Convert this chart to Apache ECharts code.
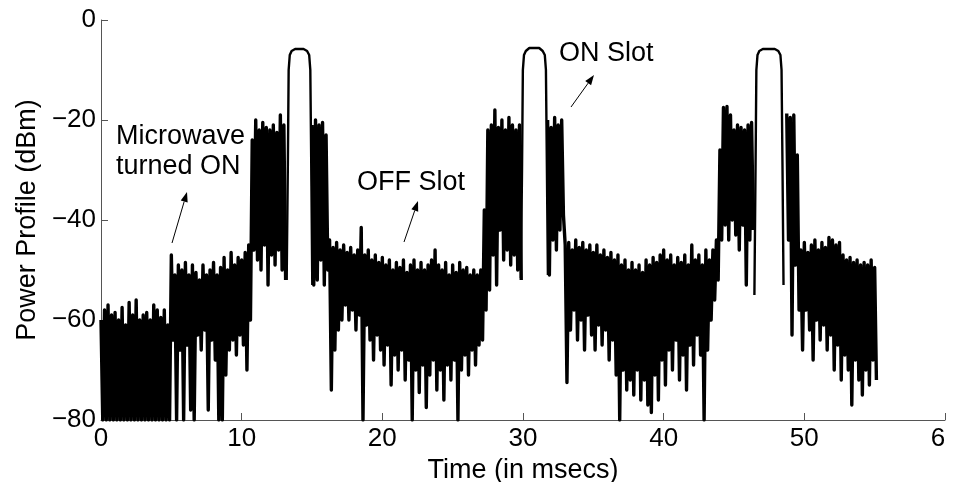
<!DOCTYPE html>
<html>
<head>
<meta charset="utf-8">
<script src="https://cdn.jsdelivr.net/npm/echarts@6/dist/echarts.min.js"></script>
<style>
html,body{margin:0;padding:0;background:#fff;}
#chart{width:959px;height:482px;}
</style>
</head>
<body>
<div id="chart"></div>
<script>
// ---- Data ----
const xTicks = [0, 10, 20, 30, 40, 50, 60];
const yTicks = [-80, -60, -40, -20, 0];
const noiseStart = 0;      // ms
const noiseStep = 0.25;    // ms between samples
// upper excursions of the noisy power trace (dBm), one row per ms, null = inside ON pulse
const noiseHigh = [
  -60, -58, -57, -59,
  -58.5, -60, -57.5, -61,
  -56.5, -59, -56, -60,
  -59, -58.5, -60, -57,
  -58, -59.5, -58, -61,
  -47, -51, -49, -50,
  -48.5, -51, -49, -50.5,
  -52, -49, -51, -50,
  -48.5, -51, -49.5, -47.5,
  -50, -46.5, -49, -47.5,
  -48, -46.5, -45, -24,
  -20, -22, -20.5, -21.5,
  -22, -21, -22.5, -19,
  -21, null, null, null,
  null, null, null, null,
  -21, -20, -21, -20.5,
  -23, -44, -45.5, -44.5,
  -46, -45, -46.5, -45.5,
  -47, -46, -41.5, -47,
  -46, -48, -47, -48.5,
  -47.5, -49, -48, -50,
  -48.5, -49.5, -48, -50.5,
  -49, -48, -50, -48.5,
  -50, -49, -48, -46,
  -49, -50, -48.5, -51,
  -49, -50.5, -48.5, -50,
  -49.5, -51, -50, -51,
  -50, -38, -22, -21,
  -18, -21.5, -20, -22,
  -19.5, -21, -22, -21,
  null, null, null, null,
  null, null, null, -20,
  -21.5, -19.5, -21, -20,
  -45, -44.5, -46, -44,
  -45.5, -44.5, -46, -45,
  -46.5, -45, -47, -46,
  -47.5, -46.5, -48, -47,
  -49, -48, -50, -48.5,
  -50, -49, -50.5, -48,
  -49, -47.5, -48.5, -47,
  -46, -48, -47, -49,
  -47.5, -48.5, -47, -49,
  -45, -48, -47, -49,
  -46, -48, -46, -44,
  -26, -17.5, -17.3, -19,
  -22, -21, -21.5, -22,
  -21, -20.5, null, null,
  null, null, null, null,
  null, null, null, -18.7,
  -19.5, -19, -27, -46,
  -44.5, -46.5, -45, -44,
  -46, -44.5, -45.5, -43.5,
  -44, -45, -44.5, -47,
  -48, -47.5, -48.5, -48,
  -49, -48.5, -49, -48,
  -49.5
];
// lower excursions, taken half a step later than each upper value
const noiseLow = [
  -80, -80, -80, -80,
  -80, -80, -80, -80,
  -80, -80, -80, -80,
  -80, -80, -80, -80,
  -80, -80, -80, -80,
  -64, -80, -66, -80,
  -65, -78, -80, -63,
  -66, -62, -78, -64,
  -68, -80, -80, -71,
  -66, -64, -67, -63,
  -65, -70, -60, -46,
  -48, -50, -45, -53,
  -47, -49, -46, -50,
  -52, null, null, null,
  null, null, null, null,
  -53, -52, -48, -53,
  -50, -74, -66, -62,
  -60, -57, -60, -58,
  -62, -59, -80, -61,
  -64, -68, -63, -66,
  -69, -65, -73, -67,
  -70, -66, -72, -68,
  -80, -70, -74.5, -69,
  -77.5, -71, -68, -74,
  -70, -76, -69, -72,
  -68, -80, -70, -67,
  -71, -66, -69, -65,
  -64, -58, -54, -47,
  -53, -42, -48, -46,
  -49, -47, -50, -52,
  null, null, null, null,
  null, null, null, -51,
  -44, -46, -42, -39,
  -72.5, -62, -58, -64,
  -60, -66, -59, -63,
  -66, -61, -65, -62,
  -68, -64, -71, -80,
  -70, -74, -72, -75,
  -70, -76, -72, -77,
  -78.5, -71, -76, -68,
  -73, -66, -70, -64,
  -72, -67, -74, -65,
  -69, -63, -67, -80,
  -66, -60, -56, -52,
  -44, -41, -44, -40,
  -43, -46, -41, -53,
  -44, -42, null, null,
  null, null, null, null,
  null, null, null, -44,
  -63, -49, -58, -66,
  -58, -62, -68, -60,
  -64, -61, -66, -63,
  -70, -65, -72, -67,
  -70, -77, -68, -72,
  -75, -70, -73, -68,
  -72
];
// ON-slot pulses (time in ms, power in dBm)
const pulse1T = [13.2, 13.28, 13.34, 13.42, 13.55, 13.8, 14.4, 14.65, 14.8, 14.88, 14.95, 15.02];
const pulse1P = [-52, -30, -10, -7, -6.2, -5.8, -5.8, -6.2, -7, -10, -30, -53];
const pulse2T = [29.85, 29.93, 29.99, 30.07, 30.2, 30.45, 31.15, 31.4, 31.55, 31.63, 31.7, 31.77];
const pulse2P = [-51.6, -30, -10, -7, -6.2, -5.6, -5.6, -6.2, -7, -10, -30, -51];
const pulse3T = [46.45, 46.53, 46.59, 46.67, 46.8, 47.05, 47.9, 48.15, 48.3, 48.38, 48.45, 48.52];
const pulse3P = [-55, -30, -10, -7, -6.2, -5.8, -5.8, -6.2, -7, -10, -30, -53];

// ---- Build series data ----
const noiseData = [];
for (let i = 0; i < noiseHigh.length; i++) {
  const t = noiseStart + i * noiseStep;
  if (noiseHigh[i] === null) { noiseData.push([t, '-']); continue; }
  noiseData.push([t, noiseHigh[i]]);
  if (noiseLow[i] !== null && noiseLow[i] !== undefined) noiseData.push([t + noiseStep / 2, noiseLow[i]]);
}
const pulseData = [];
[[pulse1T, pulse1P], [pulse2T, pulse2P], [pulse3T, pulse3P]].forEach(([ts, ps], k) => {
  if (k > 0) pulseData.push([ts[0] - 0.01, '-']);
  ts.forEach((t, j) => pulseData.push([t, ps[j]]));
});

const FONT = '"Liberation Sans", Arial, Helvetica, sans-serif';
const chart = echarts.init(document.getElementById('chart'), null, {renderer: 'canvas'});

function arrow(x1, y1, x2, y2) {
  const dx = x2 - x1, dy = y2 - y1, L = Math.hypot(dx, dy);
  const ux = dx / L, uy = dy / L, hl = 10, hw = 3.6;
  const bx = x2 - ux * hl, by = y2 - uy * hl;
  return [
    {type: 'line', shape: {x1: x1, y1: y1, x2: bx, y2: by}, style: {stroke: '#000', lineWidth: 1}, silent: true},
    {type: 'polygon', shape: {points: [[x2, y2], [bx - uy * hw, by + ux * hw], [bx + uy * hw, by - ux * hw]]}, style: {fill: '#000'}, silent: true}
  ];
}
function label(text, x, y) {
  return {type: 'text', x: x, y: y, style: {text: text, font: '27px ' + FONT, fill: '#000', textAlign: 'left', textVerticalAlign: 'middle'}, silent: true};
}

const option = {
  animation: false,
  backgroundColor: '#fff',
  grid: {left: 101, right: 14, top: 20, bottom: 62, containLabel: false, outerBoundsMode: 'none'},
  xAxis: {
    type: 'value', min: xTicks[0], max: xTicks[xTicks.length - 1], interval: 10,
    name: 'Time (in msecs)', nameLocation: 'middle', nameGap: 30,
    nameTextStyle: {fontFamily: FONT, fontSize: 27, color: '#000'},
    axisLine: {show: true, onZero: false, lineStyle: {color: '#555', width: 1}},
    axisTick: {show: true, inside: true, length: 7, lineStyle: {color: '#555'}},
    axisLabel: {
      fontFamily: FONT, fontSize: 26, color: '#000', margin: 6,
      formatter: v => v === 60 ? '{cut|6}' : String(v),
      rich: {cut: {fontFamily: FONT, fontSize: 26, color: '#000', padding: [0, 14, 0, 0]}}
    },
    splitLine: {show: false}
  },
  yAxis: {
    type: 'value', min: yTicks[0], max: yTicks[yTicks.length - 1], interval: 20,
    name: 'Power Profile (dBm)', nameLocation: 'middle', nameGap: 58,
    nameTextStyle: {fontFamily: FONT, fontSize: 27, color: '#000'},
    axisLine: {show: true, onZero: false, lineStyle: {color: '#555', width: 1}},
    axisTick: {show: true, inside: true, length: 7, lineStyle: {color: '#555'}},
    axisLabel: {fontFamily: FONT, fontSize: 26, color: '#000', margin: 5,
      formatter: v => v < 0 ? '\u2212' + Math.abs(v) : String(v)},
    splitLine: {show: false}
  },
  series: [
    {type: 'line', data: noiseData, symbol: 'none', connectNulls: false, clip: true, silent: true,
     lineStyle: {color: '#000', width: 3.4, join: 'round'}},
    {type: 'line', data: pulseData, symbol: 'none', connectNulls: false, clip: true, silent: true,
     lineStyle: {color: '#000', width: 2.4, join: 'round'}}
  ],
  graphic: [
    label('Microwave', 116, 137),
    label('turned ON', 116, 167),
    label('OFF Slot', 357, 183),
    label('ON Slot', 559, 54),
    ...arrow(172, 243, 187, 192),
    ...arrow(404, 242, 418, 201),
    ...arrow(571, 107, 594, 75)
  ]
};
chart.setOption(option);
</script>
</body>
</html>
